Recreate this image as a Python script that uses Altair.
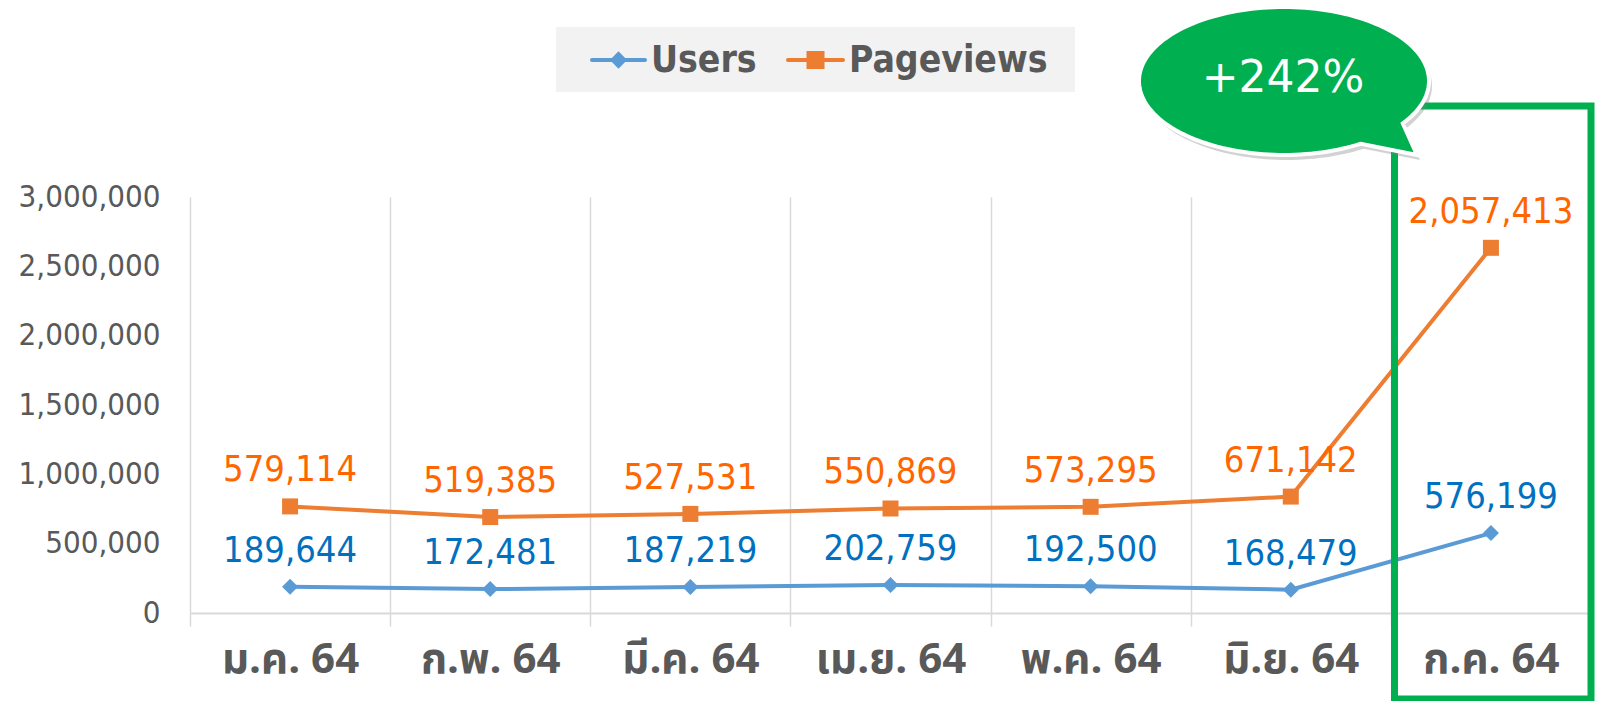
import altair as alt
import pandas as pd
import numpy as np

# ---------------- data ----------------
months = ["ม.ค. 64", "ก.พ. 64", "มี.ค. 64", "เม.ย. 64", "พ.ค. 64", "มิ.ย. 64", "ก.ค. 64"]
users = [189644, 172481, 187219, 202759, 192500, 168479, 576199]
pageviews = [579114, 519385, 527531, 550869, 573295, 671142, 2057413]
y_ticks = [0, 500000, 1000000, 1500000, 2000000, 2500000, 3000000]
series_names = ["Users", "Pageviews"]
callout_text = "+242%"

df = pd.DataFrame({"month": months, "users": users, "pageviews": pageviews})
one = pd.DataFrame({"k": [0]})

# ---------------- style ----------------
NUM_FONT = '"DejaVu Sans Condensed", "DejaVu Sans", sans-serif'
THAI_FONT = 'Tahoma, "Noto Sans Thai", "Noto Sans Thai Looped", Loma, Garuda, "Noto Sans", "DejaVu Sans", sans-serif'
GRAY = "#595959"
BLUE_LINE = "#5b9bd5"
ORANGE_LINE = "#ed7d31"
BLUE_TXT = "#0070c0"
ORANGE_TXT = "#ff6600"
GREEN = "#00b050"
W, H = 1401, 416

x_enc = alt.X(
    "month:N",
    sort=months,
    bandPosition=0.5,
    scale=alt.Scale(type="band", domain=months, paddingInner=0, paddingOuter=0),
    axis=alt.Axis(
        title=None, tickBand="extent", grid=True, gridColor="#d9d9d9", gridWidth=1.5,
        domainColor="#d9d9d9", domainWidth=2, tickColor="#d9d9d9", tickSize=13, tickWidth=1.5,
        labelFontSize=42, labelFontWeight="bold", labelColor=GRAY, labelPadding=13,
        labelAngle=0, labelFont=THAI_FONT, labelBaseline="top",
    ),
)
y_scale = alt.Scale(domain=[0, 3000000], nice=False)
y_axis = alt.Axis(
    title=None, values=y_ticks, format=",d", grid=False, domain=False, ticks=False,
    labelFontSize=31, labelColor=GRAY, labelPadding=30, labelFont=NUM_FONT,
)

base = alt.Chart(df)

users_line = base.mark_line(color=BLUE_LINE, strokeWidth=4).encode(
    x=x_enc, y=alt.Y("users:Q", scale=y_scale, axis=y_axis)
)
users_pts = base.mark_point(shape="diamond", filled=True, size=256, color=BLUE_LINE, opacity=1).encode(
    x=x_enc, y=alt.Y("users:Q", scale=y_scale, axis=y_axis)
)
users_lbl = base.mark_text(dy=-36, fontSize=36, font=NUM_FONT, color=BLUE_TXT, baseline="middle").encode(
    x=x_enc, y=alt.Y("users:Q", scale=y_scale, axis=y_axis), text=alt.Text("users:Q", format=",d")
)

pv = base.transform_calculate(pv_total="datum.users + datum.pageviews")
pv_line = pv.mark_line(color=ORANGE_LINE, strokeWidth=4).encode(
    x=x_enc, y=alt.Y("pv_total:Q", scale=y_scale, axis=y_axis)
)
pv_pts = pv.mark_point(shape="square", filled=True, size=256, color=ORANGE_LINE, opacity=1).encode(
    x=x_enc, y=alt.Y("pv_total:Q", scale=y_scale, axis=y_axis)
)
pv_lbl = pv.mark_text(dy=-36, fontSize=36, font=NUM_FONT, color=ORANGE_TXT, baseline="middle").encode(
    x=x_enc, y=alt.Y("pv_total:Q", scale=y_scale, axis=y_axis), text=alt.Text("pageviews:Q", format=",d")
)

# ---------------- legend (custom) ----------------
ann = alt.Chart(one)
leg_box = ann.mark_rect(color="#f2f2f2").encode(
    x=alt.value(366), x2=alt.value(885), y=alt.value(-170), y2=alt.value(-105)
)
leg_u_line = ann.mark_rule(color=BLUE_LINE, strokeWidth=4, strokeCap="round").encode(
    x=alt.value(402), x2=alt.value(455), y=alt.value(-137)
)
leg_u_sym = ann.mark_point(shape="diamond", filled=True, size=300, color=BLUE_LINE, opacity=1).encode(
    x=alt.value(428.5), y=alt.value(-137)
)
leg_u_txt = ann.mark_text(align="left", baseline="middle", fontSize=37, fontWeight="bold",
                          font=NUM_FONT, color=GRAY).encode(
    x=alt.value(461), y=alt.value(-136), text=alt.value(series_names[0])
)
leg_p_line = ann.mark_rule(color=ORANGE_LINE, strokeWidth=4, strokeCap="round").encode(
    x=alt.value(598), x2=alt.value(653), y=alt.value(-137)
)
leg_p_sym = ann.mark_point(shape="square", filled=True, size=324, color=ORANGE_LINE, opacity=1).encode(
    x=alt.value(625.5), y=alt.value(-137)
)
leg_p_txt = ann.mark_text(align="left", baseline="middle", fontSize=37, fontWeight="bold",
                          font=NUM_FONT, color=GRAY).encode(
    x=alt.value(659), y=alt.value(-136), text=alt.value(series_names[1])
)

# ---------------- callout bubble ----------------
ry = 0.51
t1, t2 = np.radians(35), np.radians(58)
ts = np.linspace(t2, t1 + 2 * np.pi, 160)
pts = [(np.cos(t), ry * np.sin(t)) for t in ts] + [(0.917, 0.51)]
bubble_path = "M" + " L".join(f"{px:.4f},{py:.4f}" for px, py in pts) + " Z"
BUB_SIZE = 290 ** 2
bub_cx, bub_cy = 1094, -116

bub_shadow = ann.mark_point(shape=bubble_path, filled=True, size=BUB_SIZE, color="#7f7f7f",
                            opacity=0.35, strokeWidth=0).encode(
    x=alt.value(bub_cx + 3), y=alt.value(bub_cy + 5)
)
bubble = ann.mark_point(shape=bubble_path, filled=True, size=BUB_SIZE, fill=GREEN, fillOpacity=1,
                        stroke="white", strokeWidth=4, opacity=1).encode(
    x=alt.value(bub_cx), y=alt.value(bub_cy)
)
bub_txt = ann.mark_text(align="center", baseline="middle", fontSize=44, font='"DejaVu Sans", sans-serif',
                        color="white").encode(
    x=alt.value(1093), y=alt.value(-118), text=alt.value(callout_text)
)

green_box = ann.mark_rect(fill=None, filled=False, stroke=GREEN, strokeWidth=7).encode(
    x=alt.value(1204.5), x2=alt.value(1401), y=alt.value(-91), y2=alt.value(502)
)

chart = alt.layer(
    leg_box, leg_u_line, leg_u_sym, leg_u_txt, leg_p_line, leg_p_sym, leg_p_txt,
    users_line, pv_line, users_pts, pv_pts, users_lbl, pv_lbl,
    green_box, bub_shadow, bubble, bub_txt,
).properties(
    width=W, height=H,
    autosize=alt.AutoSizeParams(type="none"),
    padding={"left": 182, "top": 189, "right": 4, "bottom": 88},
    background="white",
).configure_view(stroke=None)

chart.save("out.html", embed_options={"renderer": "svg", "actions": False})
